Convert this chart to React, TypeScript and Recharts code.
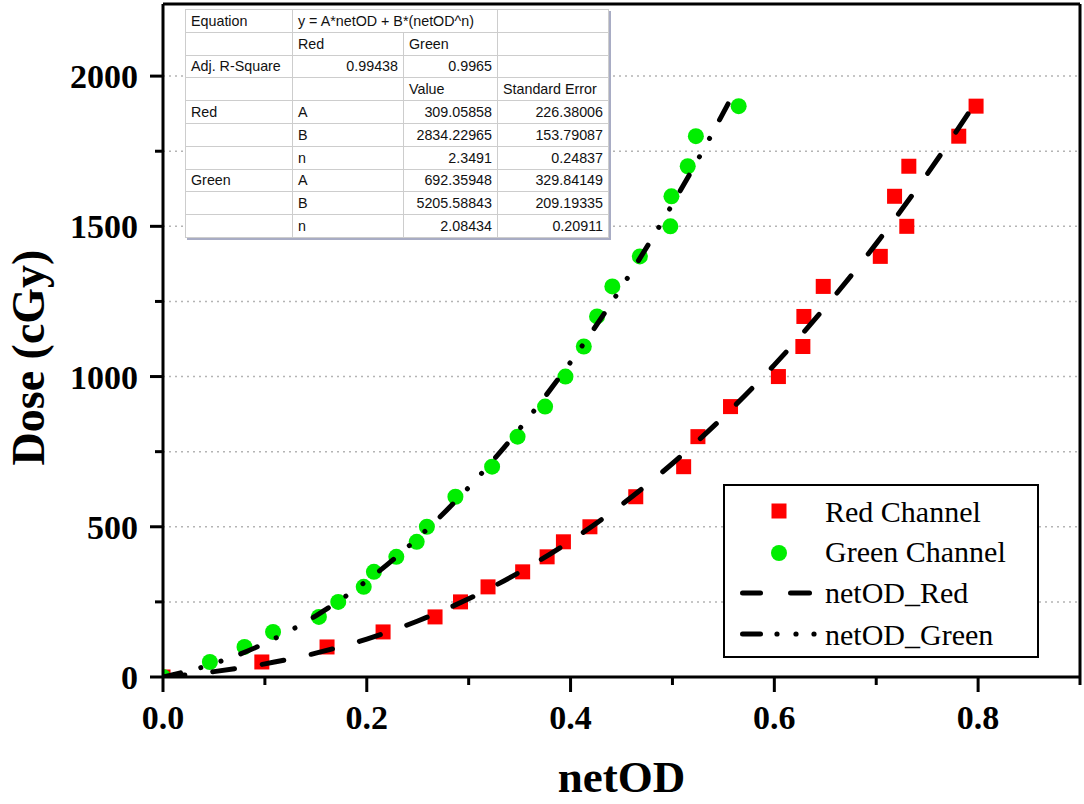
import React from 'react';
import { ComposedChart, Scatter, Line, XAxis, YAxis, CartesianGrid, Legend, ReferenceLine } from 'recharts';

// ---- data ----
const doseLevels = [0, 50, 100, 150, 200, 250, 300, 350, 400, 450, 500, 600, 700, 800, 900, 1000, 1100, 1200, 1300, 1400, 1500, 1600, 1700, 1800, 1900];
const redNetOD = [0.0, 0.097, 0.161, 0.216, 0.267, 0.292, 0.319, 0.353, 0.377, 0.393, 0.419, 0.464, 0.511, 0.525, 0.557, 0.604, 0.628, 0.629, 0.648, 0.704, 0.730, 0.718, 0.732, 0.781, 0.798];
const greenNetOD = [0.0, 0.046, 0.080, 0.108, 0.153, 0.172, 0.197, 0.207, 0.229, 0.249, 0.259, 0.287, 0.323, 0.348, 0.375, 0.395, 0.413, 0.426, 0.441, 0.468, 0.498, 0.499, 0.515, 0.523, 0.565];

const fitRedNetOD = [0, 0.05, 0.1, 0.15, 0.2, 0.25, 0.3, 0.35, 0.4, 0.45, 0.5, 0.55, 0.6, 0.65, 0.7, 0.75, 0.8];
const fitRedDose = [0, 17.9, 43.6, 79.3, 126.4, 186.5, 260.3, 348.9, 452.9, 573.4, 710.7, 865.9, 1039, 1231.2, 1442.5, 1673.7, 1925.2];
const fitGreenNetOD = [0, 0.05, 0.1, 0.15, 0.2, 0.25, 0.3, 0.35, 0.4, 0.45, 0.5, 0.53, 0.557];
const fitGreenDose = [0, 44.7, 112.1, 203.7, 320.3, 462.6, 630.9, 826.0, 1047.8, 1297.0, 1573.6, 1753.0, 1922.8];

const xTickValues = [0, 0.1, 0.2, 0.3, 0.4, 0.5, 0.6, 0.7, 0.8, 0.9];
const xMajorTicks = [0, 0.2, 0.4, 0.6, 0.8];
const yTickValues = [0, 250, 500, 750, 1000, 1250, 1500, 1750, 2000];
const yMajorTicks = [0, 500, 1000, 1500, 2000];

const legendLabels = ['Red Channel', 'Green Channel', 'netOD_Red', 'netOD_Green'];

const tableHeader = ['Equation', 'y = A*netOD + B*(netOD^n)', ''];
const tableRows = [
  ['', 'Red', 'Green', ''],
  ['Adj. R-Square', '0.99438', '0.9965', ''],
  ['', '', 'Value', 'Standard Error'],
  ['Red', 'A', '309.05858', '226.38006'],
  ['', 'B', '2834.22965', '153.79087'],
  ['', 'n', '2.3491', '0.24837'],
  ['Green', 'A', '692.35948', '329.84149'],
  ['', 'B', '5205.58843', '209.19335'],
  ['', 'n', '2.08434', '0.20911'],
];

const redData = doseLevels.map((d, i) => ({ x: redNetOD[i], y: d }));
const greenData = doseLevels.map((d, i) => ({ x: greenNetOD[i], y: d }));
const fitRedData = fitRedNetOD.map((x, i) => ({ x, y: fitRedDose[i] }));
const fitGreenData = fitGreenNetOD.map((x, i) => ({ x, y: fitGreenDose[i] }));

const SERIF = '"Liberation Serif", "Times New Roman", serif';
const SANS = '"Liberation Sans", Arial, sans-serif';

const XTick = (props: any) => {
  const { x, y, payload } = props;
  const v = payload.value as number;
  const major = xMajorTicks.some((t) => Math.abs(t - v) < 1e-6);
  return (
    <g>
      <line x1={x} y1={y} x2={x} y2={y + (major ? 15 : 8)} stroke="#000" strokeWidth={3} />
      {major && (
        <text x={x} y={y + 52} textAnchor="middle" fontFamily={SERIF} fontWeight="bold" fontSize={34} fill="#000">
          {v.toFixed(1)}
        </text>
      )}
    </g>
  );
};

const YTick = (props: any) => {
  const { x, y, payload } = props;
  const v = payload.value as number;
  const major = yMajorTicks.includes(v);
  return (
    <g>
      <line x1={x} y1={y} x2={x - (major ? 13 : 8)} y2={y} stroke="#000" strokeWidth={3} />
      {major && (
        <text x={x - 25} y={y + 12} textAnchor="end" fontFamily={SERIF} fontWeight="bold" fontSize={34} fill="#000">
          {v}
        </text>
      )}
    </g>
  );
};

const YLabel = (props: any) => {
  const vb = props.viewBox || { x: 0, y: 4, width: 163, height: 673 };
  const cx = vb.x + 44;
  const cy = vb.y + vb.height / 2 + 17;
  return (
    <text x={cx} y={cy} transform={`rotate(-90 ${cx} ${cy})`} textAnchor="middle" fontFamily={SERIF} fontWeight="bold" fontSize={46} fill="#000">
      Dose (cGy)
    </text>
  );
};

const XLabel = (props: any) => {
  const vb = props.viewBox || { x: 163, y: 677, width: 917, height: 127 };
  const cx = vb.x + vb.width / 2;
  return (
    <text x={cx} y={vb.y + 115} textAnchor="middle" fontFamily={SERIF} fontWeight="bold" fontSize={45} fill="#000">
      netOD
    </text>
  );
};

const RedSquare = (p: any) => <rect x={p.cx - 7.5} y={p.cy - 7.5} width={15} height={15} fill="#ff0000" />;
const GreenDot = (p: any) => <circle cx={p.cx} cy={p.cy} r={8} fill="#00ee00" />;

const LegendBox = () => (
  <svg width={316} height={174} style={{ display: 'block' }}>
    <rect x={1} y={1} width={314} height={172} fill="#fff" stroke="#000" strokeWidth={2} />
    <rect x={48.5} y={19.5} width={15} height={15} fill="#ff0000" />
    <circle cx={56} cy={69} r={8} fill="#00ee00" />
    <line x1={19.5} y1={109} x2={37.5} y2={109} stroke="#000" strokeWidth={5} strokeLinecap="round" />
    <line x1={67.5} y1={109} x2={86.5} y2={109} stroke="#000" strokeWidth={5} strokeLinecap="round" />
    <line x1={19.5} y1={150} x2={37.5} y2={150} stroke="#000" strokeWidth={5} strokeLinecap="round" />
    <circle cx={54} cy={150} r={2.6} fill="#000" />
    <circle cx={73} cy={150} r={2.6} fill="#000" />
    <circle cx={91} cy={150} r={2.6} fill="#000" />
    {legendLabels.map((l, i) => (
      <text key={l} x={102} y={[38, 78, 119, 161][i]} fontFamily={SERIF} fontSize={30} fill="#000">
        {l}
      </text>
    ))}
  </svg>
);

const isNum = (s: string) => /^[\d.]+$/.test(s);
const colWidths = [107, 111, 94, 111];

const FitTable = () => {
  const td = (content: string, key: number, extra: any = {}) => (
    <td
      key={key}
      {...extra}
      style={{
        border: '1px solid #cdcdcd',
        padding: '0 5px',
        height: 21.8,
        lineHeight: '20px',
        textAlign: isNum(content) ? 'right' : 'left',
        whiteSpace: 'nowrap',
        overflow: 'hidden',
        color: '#111',
      }}
    >
      {content}
    </td>
  );
  return (
    <table
      style={{
        position: 'absolute',
        left: 185,
        top: 9,
        width: 423,
        height: 218,
        borderCollapse: 'collapse',
        tableLayout: 'fixed',
        fontFamily: SANS,
        fontSize: 14.3,
        background: '#fff',
        border: '1.5px solid #555',
        boxShadow: '2px 2px 0 #a8acc4',
        zIndex: 5,
      }}
    >
      <colgroup>
        {colWidths.map((w, i) => (
          <col key={i} style={{ width: w }} />
        ))}
      </colgroup>
      <tbody>
        <tr>
          {td(tableHeader[0], 0)}
          {td(tableHeader[1], 1, { colSpan: 2 })}
          {td(tableHeader[2], 2)}
        </tr>
        {tableRows.map((r, ri) => (
          <tr key={ri}>{r.map((c, ci) => td(c, ci))}</tr>
        ))}
      </tbody>
    </table>
  );
};

export default function App() {
  return (
    <div style={{ position: 'absolute', left: 0, top: 0, width: 1084, height: 804, background: '#fff' }}>
      <ComposedChart width={1084} height={804} margin={{ top: 4, right: 4, bottom: 0, left: 0 }}>
        <CartesianGrid vertical={false} stroke="#b4b4b4" strokeDasharray="2 4" strokeWidth={1.5} />
        <XAxis
          dataKey="x"
          type="number"
          domain={[0, 0.9]}
          ticks={xTickValues}
          interval={0}
          allowDataOverflow
          height={127}
          tickSize={0}
          tickMargin={0}
          tickLine={false}
          tick={<XTick />}
          axisLine={{ stroke: '#000', strokeWidth: 3 }}
          label={<XLabel />}
        />
        <YAxis
          type="number"
          domain={[0, 2240]}
          ticks={yTickValues}
          interval={0}
          allowDataOverflow
          width={163}
          tickSize={0}
          tickMargin={0}
          tickLine={false}
          tick={<YTick />}
          axisLine={{ stroke: '#000', strokeWidth: 3 }}
          label={<YLabel />}
        />
        <ReferenceLine y={2240} stroke="#000" strokeWidth={3} />
        <ReferenceLine x={0.9} stroke="#000" strokeWidth={3} />
        <Scatter name="Red Channel" data={redData} dataKey="y" fill="#ff0000" shape={RedSquare} isAnimationActive={false} zIndex={300} />
        <Scatter name="Green Channel" data={greenData} dataKey="y" fill="#00ee00" shape={GreenDot} isAnimationActive={false} zIndex={300} />
        <Line
          name="netOD_Red"
          data={fitRedData}
          dataKey="y"
          type="monotone"
          stroke="#000"
          strokeWidth={5}
          strokeDasharray="22 28"
          strokeLinecap="round"
          dot={false}
          activeDot={false}
          isAnimationActive={false}
          zIndex={800}
        />
        <Line
          name="netOD_Green"
          data={fitGreenData}
          dataKey="y"
          type="monotone"
          stroke="#000"
          strokeWidth={5}
          strokeDasharray="18 21 0.1 21 0.1 21"
          strokeLinecap="round"
          dot={false}
          activeDot={false}
          isAnimationActive={false}
          zIndex={800}
        />
        <Legend
          layout="vertical"
          align="center"
          verticalAlign="middle"
          content={() => <LegendBox />}
          wrapperStyle={{ left: 723, top: 484, width: 316, height: 174 }}
        />
      </ComposedChart>
      <FitTable />
    </div>
  );
}
